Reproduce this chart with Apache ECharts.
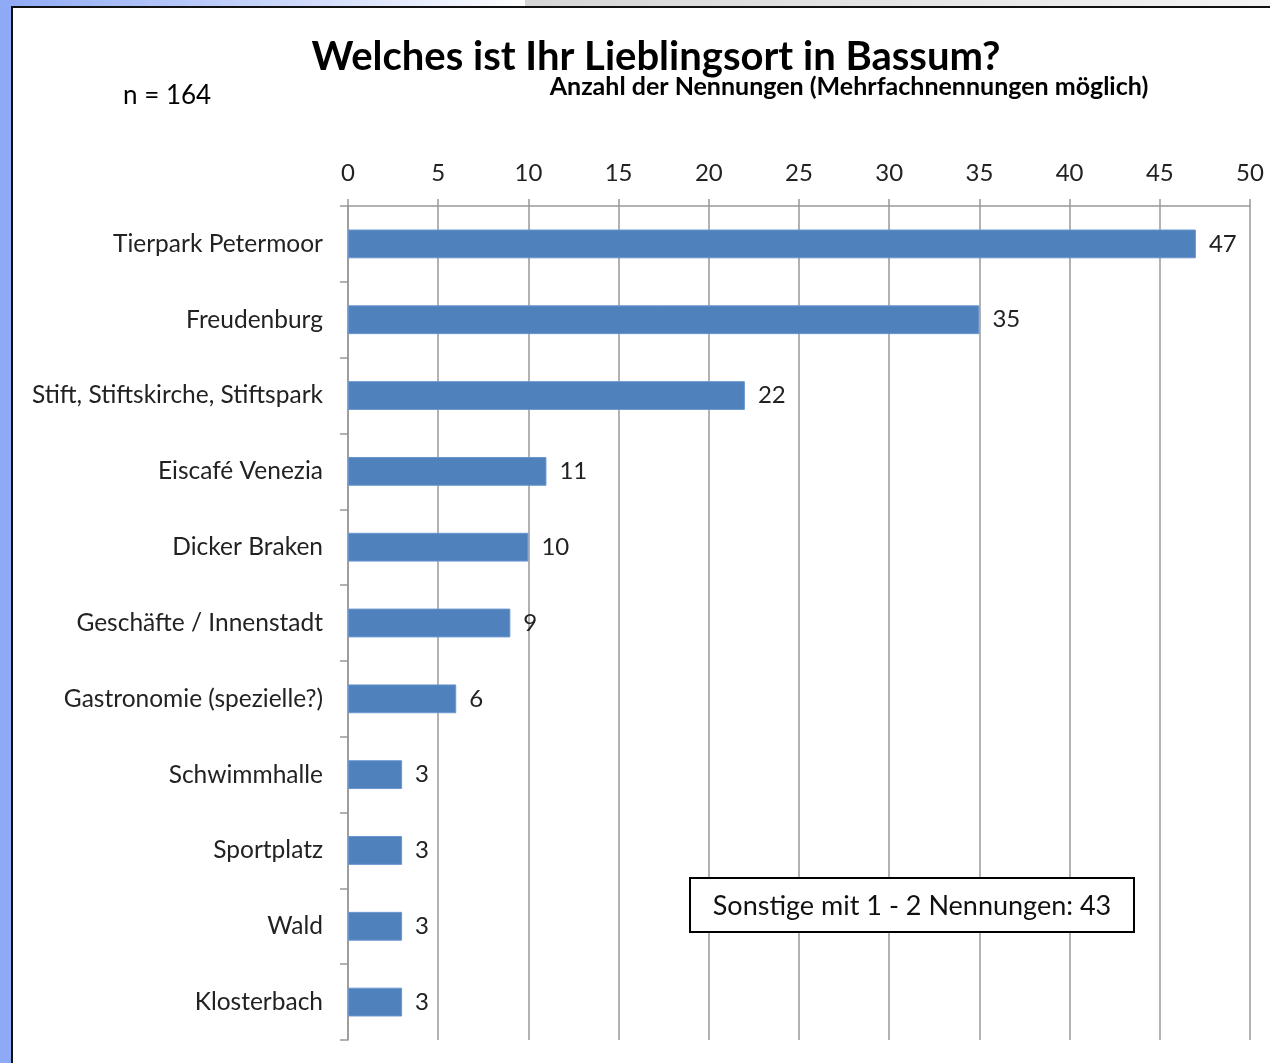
<!DOCTYPE html>
<html>
<head>
<meta charset="utf-8">
<script src="https://cdn.jsdelivr.net/npm/echarts@6/dist/echarts.min.js"></script>
<style>
  html, body { margin: 0; padding: 0; width: 1270px; height: 1063px; overflow: hidden; background: #fff; }
  #leftStrip { position: absolute; left: 0; top: 0; width: 11px; height: 1063px; background: #8ea9f6; }
  #topStrip  { position: absolute; left: 0; top: 0; width: 525px; height: 7px;
               background: linear-gradient(to right, #8ea9f6, #ffffff); }
  #topGrey   { position: absolute; left: 525px; top: 0; width: 745px; height: 7px;
               background: linear-gradient(to right, #d6d6d6, #f4f4f4); }
  #panel     { position: absolute; left: 11px; top: 6px; width: 1259px; height: 1057px;
               border-left: 2px solid #111; border-top: 2px solid #111; box-sizing: border-box; background: #fff; }
  #chart     { position: absolute; left: 0; top: 0; width: 1270px; height: 1063px; }
</style>
</head>
<body>
<div id="leftStrip"></div>
<div id="topStrip"></div>
<div id="topGrey"></div>
<div id="panel"></div>
<div id="chart"></div>
<script>
'use strict';

/* ── Data ── */
const categories = [
  'Tierpark Petermoor',
  'Freudenburg',
  'Stift, Stiftskirche, Stiftspark',
  'Eiscafé Venezia',
  'Dicker Braken',
  'Geschäfte / Innenstadt',
  'Gastronomie (spezielle?)',
  'Schwimmhalle',
  'Sportplatz',
  'Wald',
  'Klosterbach'
];
const values = [47, 35, 22, 11, 10, 9, 6, 3, 3, 3, 3];
const titleText = 'Welches ist Ihr Lieblingsort in Bassum?';
const subtitleText = 'Anzahl der Nennungen (Mehrfachnennungen möglich)';
const sampleText = 'n = 164';
const noteText = 'Sonstige mit 1 - 2 Nennungen: 43';

const FONT = "Lato, 'Open Sans', sans-serif";
const GRID_COLOR = '#999999';

const chart = echarts.init(document.getElementById('chart'), null, { renderer: 'canvas' });

chart.setOption({
  backgroundColor: 'transparent',
  textStyle: { fontFamily: FONT },
  animation: false,
  title: [
    {
      text: titleText,
      left: 651, top: 32, textAlign: 'center',
      textStyle: { fontFamily: FONT, fontSize: 40, fontWeight: 'bold', color: '#000' }
    },
    {
      text: subtitleText,
      left: 844, top: 69, textAlign: 'center',
      textStyle: { fontFamily: FONT, fontSize: 25, fontWeight: 'bold', color: '#000' }
    },
    {
      text: sampleText,
      left: 118, top: 78,
      textStyle: { fontFamily: FONT, fontSize: 26, fontWeight: 'normal', color: '#000' }
    }
  ],
  grid: { left: 348, right: 20, top: 206, bottom: 23, containLabel: false },
  xAxis: {
    type: 'value',
    position: 'top',
    min: 0,
    max: 50,
    interval: 5,
    axisLine: { show: true, lineStyle: { color: GRID_COLOR, width: 1.5 } },
    axisTick: { show: true, length: 7, lineStyle: { color: GRID_COLOR, width: 1.5 } },
    axisLabel: { color: '#222', fontSize: 24, fontFamily: FONT, margin: 21 },
    splitLine: { show: true, lineStyle: { color: GRID_COLOR, width: 1.5 } }
  },
  yAxis: {
    type: 'category',
    inverse: true,
    data: categories,
    axisLine: { show: true, lineStyle: { color: GRID_COLOR, width: 1.5 } },
    axisTick: { show: true, length: 8, lineStyle: { color: GRID_COLOR, width: 1.5 } },
    axisLabel: { color: '#222', fontSize: 24.5, fontFamily: FONT, margin: 25 }
  },
  series: [{
    type: 'bar',
    data: values,
    barWidth: '38%',
    itemStyle: { color: '#4f81bd', borderColor: '#6b97cf', borderWidth: 1 },
    label: {
      show: true,
      position: 'right',
      distance: 13,
      color: '#222',
      fontSize: 24,
      fontFamily: FONT
    }
  }],
  graphic: [{
    type: 'group',
    left: 689,
    top: 877,
    z: 100,
    children: [
      {
        type: 'rect',
        z: 100,
        shape: { x: 0, y: 0, width: 444, height: 54 },
        style: { fill: '#fff', stroke: '#000', lineWidth: 2 }
      },
      {
        type: 'text',
        z: 101,
        x: 222, y: 28,
        style: {
          text: noteText,
          fill: '#111',
          font: '27px ' + FONT,
          textAlign: 'center',
          textVerticalAlign: 'middle'
        }
      }
    ]
  }]
});
</script>
</body>
</html>
